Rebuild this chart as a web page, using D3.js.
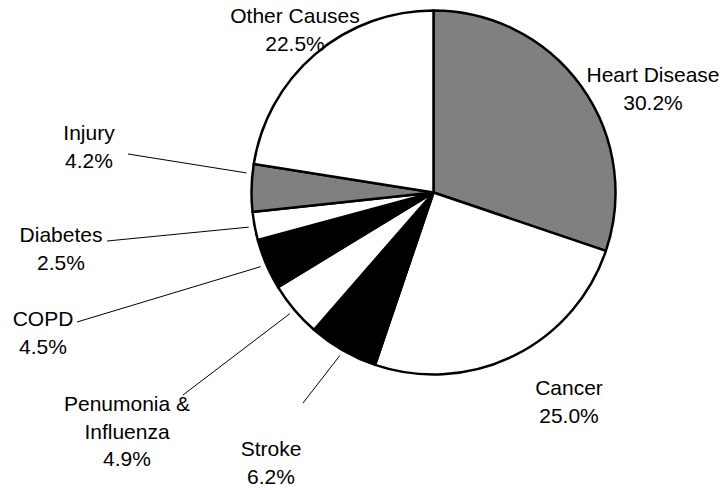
<!DOCTYPE html>
<html>
<head>
<meta charset="utf-8">
<script src="https://cdn.jsdelivr.net/npm/d3@7"></script>
<style>
  body { margin: 0; background: #fff; }
  svg { display: block; font-family: "Liberation Sans", Arial, sans-serif; }
</style>
</head>
<body>
<div class="canvas"></div>
<script>
// data, clockwise from 12 o'clock
const causes = ["Heart Disease", "Cancer", "Stroke", "Penumonia & Influenza", "COPD", "Diabetes", "Injury", "Other Causes"];
const shares = [30.2, 25.0, 6.2, 4.9, 4.5, 2.5, 4.2, 22.5];
const fills = ["#808080", "#ffffff", "#000000", "#ffffff", "#000000", "#ffffff", "#808080", "#ffffff"];

// hand placed labels (like the original): text lines, centre x, first baseline, leader start
const labelLines = [["Heart Disease"], ["Cancer"], ["Stroke"], ["Penumonia &", "Influenza"], ["COPD"], ["Diabetes"], ["Injury"], ["Other Causes"]];
const labelPos = [
    { x: 653, y: 82 },
    { x: 569, y: 395 },
    { x: 271, y: 456, lx: 303, ly: 403 },
    { x: 127, y: 411, lx: 183, ly: 395 },
    { x: 43, y: 326, lx: 77, ly: 322 },
    { x: 61, y: 242, lx: 107, ly: 241 },
    { x: 89, y: 140, lx: 128, ly: 154, anchor: 0.8 },
    { x: 295, y: 23 }
];

const width = 726, height = 490;
const cx = 433.5, cy = 192.5, radius = 182;
const lineGap = 27.5;

const svg = d3.select(".canvas")
    .append("svg")
    .attr("width", width)
    .attr("height", height);

const graph = svg.append("g")
    .attr("transform", `translate(${cx}, ${cy})`);

const pie = d3.pie().sort(null).value(d => d);
const arcs = pie(shares);
const arc = d3.arc().innerRadius(0).outerRadius(radius);

graph.selectAll("path")
    .data(arcs)
    .enter()
    .append("path")
    .attr("d", arc)
    .attr("fill", (d, i) => fills[i])
    .attr("stroke", "#000")
    .attr("stroke-width", 2.5)
    .attr("stroke-linejoin", "round");

// leader lines
arcs.forEach((d, i) => {
    const p = labelPos[i];
    if (p.lx === undefined) return;
    const f = p.anchor === undefined ? 0.5 : p.anchor;
    const a = d.startAngle + (d.endAngle - d.startAngle) * f;
    const r = radius + 6;
    svg.append("line")
        .attr("x1", p.lx)
        .attr("y1", p.ly)
        .attr("x2", cx + r * Math.sin(a))
        .attr("y2", cy - r * Math.cos(a))
        .attr("stroke", "#000")
        .attr("stroke-width", 1);
});

// labels
arcs.forEach((d, i) => {
    const p = labelPos[i];
    const lines = labelLines[i].concat([shares[i].toFixed(1) + "%"]);
    const t = svg.append("text")
        .attr("text-anchor", "middle")
        .attr("font-size", 21)
        .attr("fill", "#000");
    lines.forEach((s, j) => {
        t.append("tspan")
            .attr("x", p.x)
            .attr("y", p.y + j * lineGap)
            .text(s);
    });
});
</script>
</body>
</html>
